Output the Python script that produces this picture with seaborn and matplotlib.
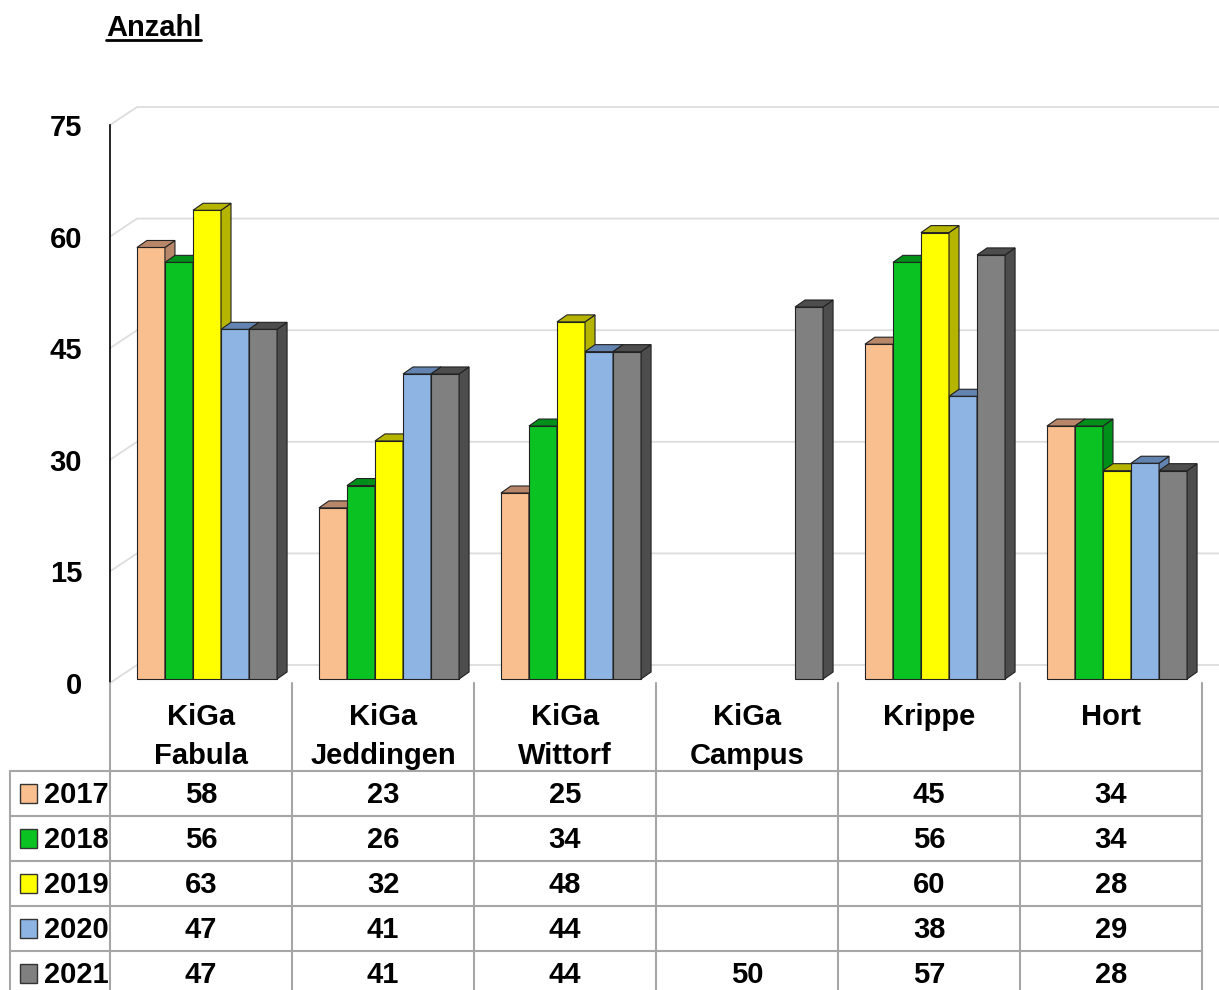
import numpy as np
import pandas as pd
import matplotlib
matplotlib.use("Agg")
import matplotlib.pyplot as plt
import matplotlib.transforms as mtransforms
from matplotlib.patches import Polygon, Rectangle
from matplotlib.lines import Line2D
import seaborn as sns
from matplotlib import font_manager

# ---------------- data ----------------
categories = ["KiGa\nFabula", "KiGa\nJeddingen", "KiGa\nWittorf", "KiGa\nCampus", "Krippe", "Hort"]
years = ["2017", "2018", "2019", "2020", "2021"]
v2017 = [58, 23, 25, None, 45, 34]
v2018 = [56, 26, 34, None, 56, 34]
v2019 = [63, 32, 48, None, 60, 28]
v2020 = [47, 41, 44, None, 38, 29]
v2021 = [47, 41, 44, 50, 57, 28]
yticks = [0, 15, 30, 45, 60, 75]

front_colors = ["#FABF8F", "#0AC323", "#FFFF00", "#8DB4E2", "#808080"]
side_colors = ["#B8876A", "#00901A", "#B5B500", "#6384B0", "#4D4D4D"]

series = [v2017, v2018, v2019, v2020, v2021]
rows = []
for yr, vals in zip(years, series):
    for cat, v in zip(categories, vals):
        if v is not None:
            rows.append({"Einrichtung": cat, "Jahr": yr, "Anzahl": v})
df = pd.DataFrame(rows)

# ---------------- fonts ----------------
sns.set_style("white")
avail = {f.name for f in font_manager.fontManager.ttflist}
narrow = "Liberation Sans Narrow" if "Liberation Sans Narrow" in avail else "Liberation Sans"
plt.rcParams["font.family"] = [narrow, "DejaVu Sans"]
plt.rcParams["text.color"] = "black"
plt.rcParams["ytick.labelcolor"] = "black"
FS = 21

W, H = 1219, 990
fig = plt.figure(figsize=(W / 100, H / 100), dpi=100)
fig.patch.set_facecolor("white")

def fx(px):
    return px / W

def fy(py):
    return 1 - py / H

x_left, x_right = 110, 1202
y_zero, y_top = 683, 125
ax = fig.add_axes([fx(x_left), fy(y_zero), (x_right - x_left) / W, (y_zero - y_top) / H])

sns.barplot(data=df, x="Einrichtung", y="Anzahl", hue="Jahr", order=categories,
            hue_order=years, palette=front_colors, width=0.77, errorbar=None,
            legend=False, ax=ax, edgecolor="#222222", linewidth=0.8, saturation=1)

ax.set_xlim(-0.5, len(categories) - 0.5)
ax.set_ylim(0, 75)
ax.set_yticks(yticks)
ax.set_xticks([])
ax.set_xlabel("")
ax.set_ylabel("")
for s in ["top", "right", "bottom"]:
    ax.spines[s].set_visible(False)
ax.spines["left"].set_color("black")
ax.spines["left"].set_linewidth(1.2)
ax.tick_params(axis="y", direction="out", length=8, width=1.2, color="black", pad=12,
               labelsize=FS, labelcolor="black")
for lbl in ax.get_yticklabels():
    lbl.set_fontweight("bold")
ax.patch.set_alpha(0)

# pixel -> data conversions
xpd = (len(categories)) / (x_right - x_left)
ypd = 75 / (y_zero - y_top)

# back-wall grid lines (3D perspective)
wall_dx, wall_dy = 27 * xpd, 18 * ypd
x_far = -0.5 + (W - x_left) * xpd
for v in yticks:
    ax.add_line(Line2D([-0.5, -0.5 + wall_dx, x_far], [v, v + wall_dy, v + wall_dy],
                       color="#DDDDDD", lw=1.3, zorder=0.5, clip_on=False))

# 3D bar faces
bar_dx, bar_dy = 10 * xpd, 7 * ypd
shift = 6 * xpd
base = 4 * ypd
items = []
for hi, cont in enumerate(ax.containers):
    for p in cont.patches:
        h = p.get_height()
        if h is None or np.isnan(h) or h == 0:
            continue
        items.append((p.get_x(), hi, p))
items.sort(key=lambda t: t[0])
for k, (x0, hi, p) in enumerate(items):
    p.set_x(x0 + shift)
    p.set_y(base)
    x0 = p.get_x()
    w = p.get_width()
    h = p.get_height() + base
    z = 2 + k * 0.01
    p.set_zorder(z)
    p.set_clip_on(False)
    side = Polygon([(x0 + w, base), (x0 + w + bar_dx, base + bar_dy), (x0 + w + bar_dx, h + bar_dy), (x0 + w, h)],
                   closed=True, facecolor=side_colors[hi], edgecolor="#222222", lw=0.8,
                   zorder=z, clip_on=False)
    top = Polygon([(x0, h), (x0 + bar_dx, h + bar_dy), (x0 + w + bar_dx, h + bar_dy), (x0 + w, h)],
                  closed=True, facecolor=side_colors[hi], edgecolor="#222222", lw=0.8,
                  zorder=z, clip_on=False)
    ax.add_patch(side)
    ax.add_patch(top)

# ---------------- title ----------------
fig.text(fx(106), fy(36), "Anzahl", fontsize=21, fontweight="bold",
         family=["Liberation Sans", "DejaVu Sans"], ha="left", va="baseline")
fig.add_artist(Line2D([fx(106), fx(201)], [fy(40), fy(40)], color="black", lw=2))

# ---------------- data table ----------------
bt = mtransforms.blended_transform_factory(ax.transData, fig.transFigure)
gridc = "#A6A6A6"
row_lines = [771, 816, 861, 906, 951]
row_base = [803, 848, 893, 938, 983]
bounds = np.arange(len(categories) + 1) - 0.5

for b in bounds:
    fig.add_artist(Line2D([b, b], [fy(683), fy(H + 5)], color=gridc, lw=1.5, transform=bt))
fig.add_artist(Line2D([fx(10), fx(10)], [fy(row_lines[0]), fy(H + 5)], color=gridc, lw=1.5))
for ry in row_lines:
    fig.add_artist(Line2D([fx(10), fx(x_right)], [fy(ry), fy(ry)], color=gridc, lw=1.5))

for i, cat in enumerate(categories):
    for j, line in enumerate(cat.split("\n")):
        fig.text(i, fy(725 + 39 * j), line, transform=bt, ha="center", va="baseline",
                 fontsize=FS, fontweight="bold")

for r, (yr, vals) in enumerate(zip(years, series)):
    by = row_base[r]
    fig.add_artist(Rectangle((fx(20), fy(by)), 17 / W, 19 / H, facecolor=front_colors[r],
                             edgecolor="#333333", lw=1.0, transform=fig.transFigure))
    fig.text(fx(44), fy(by), yr, ha="left", va="baseline", fontsize=FS, fontweight="bold")
    for i, v in enumerate(vals):
        if v is not None:
            fig.text(i, fy(by), str(v), transform=bt, ha="center", va="baseline",
                     fontsize=FS, fontweight="bold")

fig.savefig("out.png", dpi=100, facecolor="white")
